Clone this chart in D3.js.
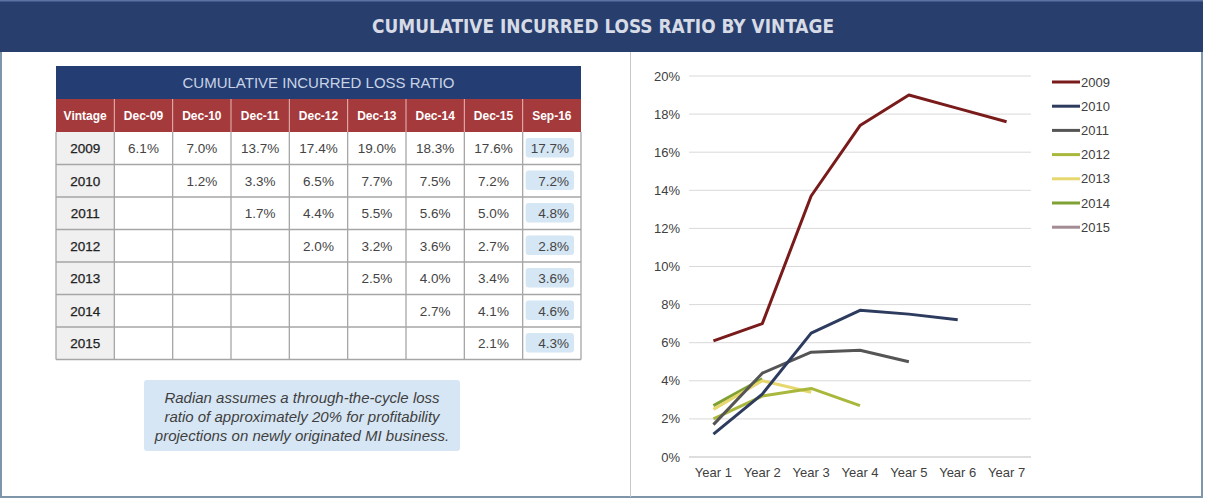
<!DOCTYPE html>
<html><head><meta charset="utf-8">
<script src="https://cdn.jsdelivr.net/npm/d3@7"></script>
<style>html,body{margin:0;padding:0;background:#fff;}svg{display:block;}</style>
</head><body>
<svg id="c" width="1205" height="501"></svg>
<script>
const title = "CUMULATIVE INCURRED LOSS RATIO BY VINTAGE";
const tableTitle = "CUMULATIVE INCURRED LOSS RATIO";
const columns = ["Vintage","Dec-09","Dec-10","Dec-11","Dec-12","Dec-13","Dec-14","Dec-15","Sep-16"];
const vintages = ["2009","2010","2011","2012","2013","2014","2015"];
const v2009 = [6.1,7.0,13.7,17.4,19.0,18.3,17.6,17.7];
const v2010 = [null,1.2,3.3,6.5,7.7,7.5,7.2,7.2];
const v2011 = [null,null,1.7,4.4,5.5,5.6,5.0,4.8];
const v2012 = [null,null,null,2.0,3.2,3.6,2.7,2.8];
const v2013 = [null,null,null,null,2.5,4.0,3.4,3.6];
const v2014 = [null,null,null,null,null,2.7,4.1,4.6];
const v2015 = [null,null,null,null,null,null,2.1,4.3];
const tableRows = [v2009,v2010,v2011,v2012,v2013,v2014,v2015];
const years = ["Year 1","Year 2","Year 3","Year 4","Year 5","Year 6","Year 7"];
const yTicks = [0,2,4,6,8,10,12,14,16,18,20];
const colors = ["#7a1b1b","#2c3b5e","#555555","#a9b83c","#e6d76e","#7fa032","#a38c93"];
const noteLines = ["Radian assumes a through-the-cycle loss","ratio of approximately 20% for profitability","projections on newly originated MI business."];

const svg = d3.select("#c");
const F = "Arial, 'Liberation Sans', sans-serif";

// frame
svg.append("rect").attr("x",1).attr("y",1).attr("width",1201).attr("height",496).attr("fill","#fff").attr("stroke","#7f95aa").attr("stroke-width",2);
svg.append("rect").attr("x",0).attr("y",0).attr("width",1203).attr("height",52).attr("fill","#283f6e");
svg.append("rect").attr("x",0).attr("y",0).attr("width",1203).attr("height",1.5).attr("fill","#5a73a3");
svg.append("text").attr("x",603).attr("y",33).attr("text-anchor","middle")
  .attr("font-family","'DejaVu Sans Condensed','Liberation Sans Narrow',Arial,sans-serif").attr("font-weight","bold")
  .attr("font-size",20).attr("fill","#d6dbe6").attr("textLength",462).attr("lengthAdjust","spacingAndGlyphs").text(title);
svg.append("line").attr("x1",630.5).attr("x2",630.5).attr("y1",52).attr("y2",497).attr("stroke","#c8c8c8").attr("stroke-width",1);

// table
const tx = d3.scaleBand().domain(columns).range([56,581]);
const rowH = 32.5;
const ty = d3.scaleBand().domain(vintages).range([132,132+rowH*7]);
const T = svg.append("g");
T.append("rect").attr("x",56).attr("y",66).attr("width",525).attr("height",33).attr("fill","#243e73");
T.append("text").attr("x",318.5).attr("y",88).attr("text-anchor","middle").attr("font-family",F).attr("font-size",15).attr("fill","#c9d3e6").text(tableTitle);
T.append("rect").attr("x",56).attr("y",99).attr("width",525).attr("height",33).attr("fill","#a53a3c");
columns.forEach((c,i)=>{
  T.append("text").attr("x",tx(c)+tx.bandwidth()/2).attr("y",120).attr("text-anchor","middle").attr("font-family",F).attr("font-weight","bold").attr("font-size",12).attr("fill","#fff").text(c);
  if(i>0) T.append("line").attr("x1",tx(c)).attr("x2",tx(c)).attr("y1",99).attr("y2",132).attr("stroke","#e8b8b8").attr("stroke-width",1);
});
// vintage column bg
T.append("rect").attr("x",56).attr("y",132).attr("width",tx.bandwidth()).attr("height",rowH*7).attr("fill","#f0f0f0");
// grid
vintages.forEach((v,r)=>{
  T.append("line").attr("x1",56).attr("x2",581).attr("y1",ty(v)+rowH).attr("y2",ty(v)+rowH).attr("stroke","#a6a6a6").attr("stroke-width",1.3);
});
columns.forEach((c,i)=>{
  T.append("line").attr("x1",tx(c)).attr("x2",tx(c)).attr("y1",132).attr("y2",132+rowH*7).attr("stroke","#a6a6a6").attr("stroke-width",1.3);
});
T.append("line").attr("x1",581).attr("x2",581).attr("y1",132).attr("y2",132+rowH*7).attr("stroke","#a6a6a6").attr("stroke-width",1.3);
vintages.forEach((v,r)=>{
  const cy = ty(v)+rowH/2+5;
  T.append("text").attr("x",tx("Vintage")+tx.bandwidth()/2).attr("y",cy).attr("text-anchor","middle").attr("font-family",F).attr("font-size",13.5).attr("fill","#222").attr("stroke","#222").attr("stroke-width",0.25).text(v);
  tableRows[r].forEach((val,j)=>{
    if(val==null) return;
    const col = columns[j+1];
    if(j===7){
      T.append("rect").attr("x",tx(col)+3).attr("y",ty(v)+6).attr("width",tx.bandwidth()-10).attr("height",rowH-13).attr("rx",3).attr("fill","#d5e6f4");
      T.append("text").attr("x",tx(col)+tx.bandwidth()-12).attr("y",cy).attr("text-anchor","end").attr("font-family",F).attr("font-size",13.5).attr("fill","#444").text(val.toFixed(1)+"%");
    } else {
      T.append("text").attr("x",tx(col)+tx.bandwidth()/2).attr("y",cy).attr("text-anchor","middle").attr("font-family",F).attr("font-size",13.5).attr("fill","#444").text(val.toFixed(1)+"%");
    }
  });
});

// note
svg.append("rect").attr("x",144).attr("y",380).attr("width",316).attr("height",71).attr("rx",3).attr("fill","#d7e6f4");
noteLines.forEach((l,i)=>{
  svg.append("text").attr("x",302).attr("y",403+i*19).attr("text-anchor","middle").attr("font-family",F).attr("font-style","italic").attr("font-size",15).attr("fill","#3f3f3f").text(l);
});

// line chart
const x = d3.scaleBand().domain(years).range([689,1031]);
const y = d3.scaleLinear().domain([0,20]).range([457,76]);
const G = svg.append("g");
G.selectAll("line.grid").data(yTicks).join("line").attr("class","grid")
  .attr("x1",689).attr("x2",1031).attr("y1",d=>y(d)).attr("y2",d=>y(d))
  .attr("stroke",d=>d===0?"#bdbdbd":"#d9d9d9").attr("stroke-width",1);
G.selectAll("text.yt").data(yTicks).join("text").attr("class","yt")
  .attr("x",680).attr("y",d=>y(d)+4.5).attr("text-anchor","end").attr("font-family",F).attr("font-size",13).attr("fill","#404040").text(d=>d+"%");
G.selectAll("text.xt").data(years).join("text").attr("class","xt")
  .attr("x",d=>x(d)+x.bandwidth()/2).attr("y",477).attr("text-anchor","middle").attr("font-family",F).attr("font-size",13).attr("fill","#404040").text(d=>d);

const series = tableRows.map((row,i)=>{
  const vals = row.slice(0,7).filter(v=>v!=null);
  return {name:vintages[i], color:colors[i], pts: vals.map((v,k)=>({yr:years[k], v}))};
});
const line = d3.line().x(d=>x(d.yr)+x.bandwidth()/2).y(d=>y(d.v));
series.slice().reverse().forEach(s=>{
  G.append("path").attr("d",line(s.pts)).attr("fill","none").attr("stroke",s.color).attr("stroke-width",3).attr("stroke-linejoin","round");
});

// legend
series.forEach((s,i)=>{
  const ly = 82+i*24.2;
  G.append("line").attr("x1",1052).attr("x2",1080).attr("y1",ly).attr("y2",ly).attr("stroke",s.color).attr("stroke-width",3);
  G.append("text").attr("x",1081).attr("y",ly+4.5).attr("font-family",F).attr("font-size",13).attr("fill","#404040").text(s.name);
});
</script>
</body></html>
